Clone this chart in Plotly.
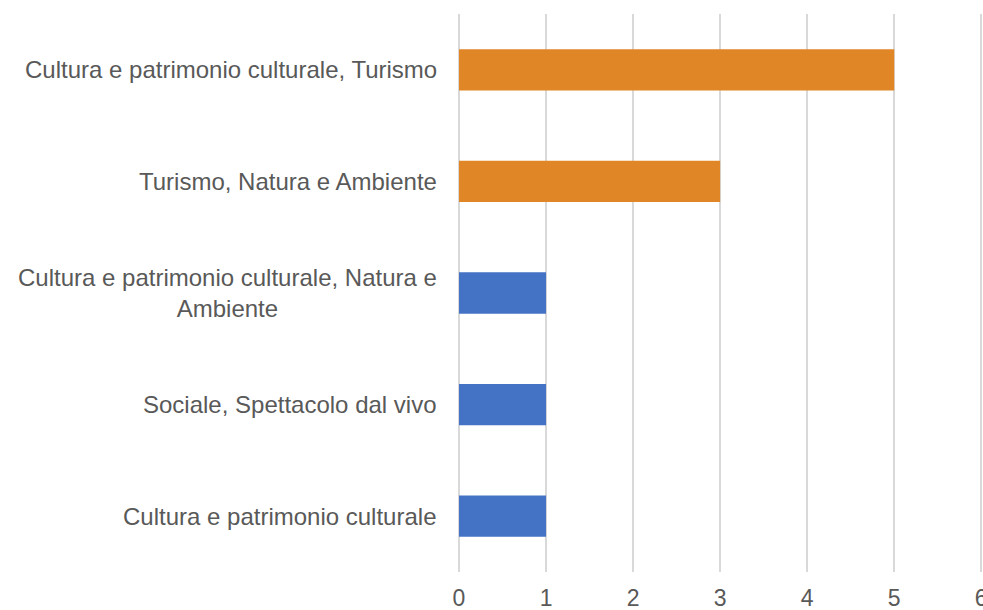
import plotly.graph_objects as go

categories = [
    "Cultura e patrimonio culturale",
    "Sociale, Spettacolo dal vivo",
    "Cultura e patrimonio culturale, Natura e<br>Ambiente",
    "Turismo, Natura e Ambiente",
    "Cultura e patrimonio culturale, Turismo",
]
values = [1, 1, 1, 3, 5]
bar_colors = ["#4472C4", "#4472C4", "#4472C4", "#E08626", "#E08626"]
x_ticks = [0, 1, 2, 3, 4, 5, 6]

font_family = "Arial, 'Liberation Sans', sans-serif"
text_color = "#595959"

fig = go.Figure(
    go.Bar(
        x=values,
        y=categories,
        orientation="h",
        marker=dict(color=bar_colors, line=dict(width=0)),
        width=0.37,
    )
)

for cat in categories:
    fig.add_annotation(
        x=0, xref="paper", y=cat, yref="y",
        text=cat, showarrow=False,
        xanchor="right", yanchor="middle", align="center",
        xshift=-20,
        font=dict(family=font_family, size=24, color=text_color),
    )

fig.update_layout(
    width=983, height=610,
    margin=dict(l=459, r=0, t=14, b=38, autoexpand=False),
    paper_bgcolor="white", plot_bgcolor="white",
    showlegend=False,
    font=dict(family=font_family, size=24, color=text_color),
)
fig.update_xaxes(
    range=[0, 6.02], tickvals=x_ticks, ticktext=[str(v) for v in x_ticks],
    showgrid=True, gridcolor="#D9D9D9", gridwidth=1.5,
    zeroline=True, zerolinecolor="#D9D9D9", zerolinewidth=1.5,
    showline=False, ticks="", ticklabelstandoff=10,
    ticklabeloverflow="allow", automargin=False,
    tickfont=dict(family=font_family, size=23, color=text_color),
)
fig.update_yaxes(
    showticklabels=False, showgrid=False, zeroline=False, showline=False,
    automargin=False,
)

fig.write_html(
    "out.html",
    config={"displayModeBar": False},
    post_script="document.body.style.margin='0';document.body.style.overflow='hidden';",
)
